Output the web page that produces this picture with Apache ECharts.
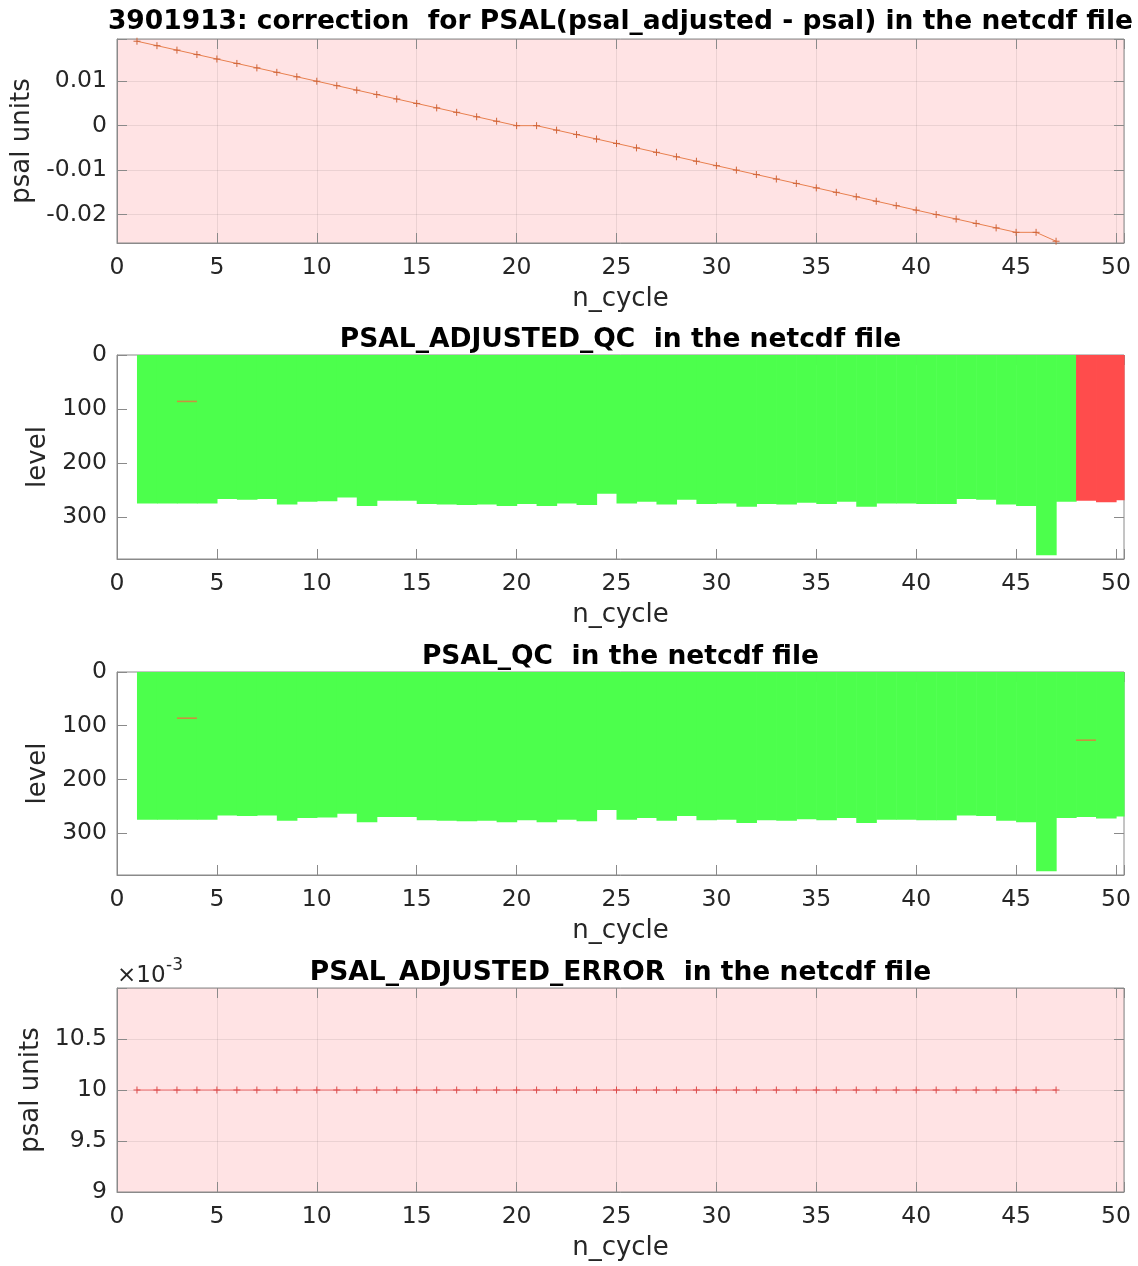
<!DOCTYPE html>
<html><head><meta charset="utf-8">
<script src="https://cdn.jsdelivr.net/npm/echarts@6/dist/echarts.min.js"></script>
<style>html,body{margin:0;padding:0;background:#fff}#c{width:1138px;height:1266px}</style>
</head><body><div id="c"></div>
<script>
// ---------- data ----------
const titles = [
  '3901913: correction  for PSAL(psal_adjusted - psal) in the netcdf file',
  'PSAL_ADJUSTED_QC  in the netcdf file',
  'PSAL_QC  in the netcdf file',
  'PSAL_ADJUSTED_ERROR  in the netcdf file'
];
const xTicks = [0, 5, 10, 15, 20, 25, 30, 35, 40, 45, 50];
const corrCycles = [1,2,3,4,5,6,7,8,9,10,11,12,13,14,15,16,17,18,19,20,21,22,23,24,25,26,27,28,29,30,31,32,33,34,35,36,37,38,39,40,41,42,43,44,45,46,47];
const correction = [0.019,0.018,0.017,0.016,0.015,0.014,0.013,0.012,0.011,0.010,0.009,0.008,0.007,0.006,0.005,0.004,0.003,0.002,0.001,0,0,-0.001,-0.002,-0.003,-0.004,-0.005,-0.006,-0.007,-0.008,-0.009,-0.010,-0.011,-0.012,-0.013,-0.014,-0.015,-0.016,-0.017,-0.018,-0.019,-0.020,-0.021,-0.022,-0.023,-0.024,-0.024,-0.026];
const adjError = [0.01,0.01,0.01,0.01,0.01,0.01,0.01,0.01,0.01,0.01,0.01,0.01,0.01,0.01,0.01,0.01,0.01,0.01,0.01,0.01,0.01,0.01,0.01,0.01,0.01,0.01,0.01,0.01,0.01,0.01,0.01,0.01,0.01,0.01,0.01,0.01,0.01,0.01,0.01,0.01,0.01,0.01,0.01,0.01,0.01,0.01,0.01];
const qcCycles = [1,2,3,4,5,6,7,8,9,10,11,12,13,14,15,16,17,18,19,20,21,22,23,24,25,26,27,28,29,30,31,32,33,34,35,36,37,38,39,40,41,42,43,44,45,46,47,48,49,50];
const profileBottom = [275,275,275,275,267,268,267,277,272,271,264,280,270,270,276,277,278,277,280,276,280,275,278,257,275,272,277,268,276,275,281,276,277,274,276,272,281,275,275,276,276,267,268,277,280,371,272,270,273,269];
const psalAdjQc = [1,1,1,1,1,1,1,1,1,1,1,1,1,1,1,1,1,1,1,1,1,1,1,1,1,1,1,1,1,1,1,1,1,1,1,1,1,1,1,1,1,1,1,1,1,1,1,4,4,4];
const psalQc    = [1,1,1,1,1,1,1,1,1,1,1,1,1,1,1,1,1,1,1,1,1,1,1,1,1,1,1,1,1,1,1,1,1,1,1,1,1,1,1,1,1,1,1,1,1,1,1,1,1,1];
const adjQcBadLevels = [[3, 86]];
const psalQcBadLevels = [[3, 86], [48, 127]];
const levelTicks = [0, 100, 200, 300];
const errTicks = [9, 9.5, 10, 10.5];

// ---------- style ----------
const FONT = '"DejaVu Sans", sans-serif';
const TXT = '#262626';
const AX = '#8a8a8a';
const GRIDC = 'rgba(38,38,38,0.09)';
const PINK = '#ffe3e4';
const GREEN = '#4cff4c';
const RED = '#ff4c4c';
const BADMARK = '#c9923f';
const TICKF = 23.5, LABF = 26;

const grids = [
  {left:117, top:39,  width:1007, height:204, bg:PINK, grid:true},
  {left:117, top:355, width:1007, height:204, bg:'#fff', grid:false},
  {left:117, top:672, width:1007, height:203, bg:'#fff', grid:false},
  {left:117, top:988, width:1007, height:204, bg:PINK, grid:true}
];
const ycfg = [
  {min:-0.0264, max:0.0195, inverse:false, name:'psal units', gap:76,
   fmt: v => { const t = Math.round(v*100); return Math.abs(v*100 - t) < 1e-6 ? String(t/100) : ''; }},
  {min:0, max:378, interval:100, inverse:true, name:'level', gap:59,
   fmt: v => levelTicks.indexOf(v) >= 0 ? String(v) : ''},
  {min:0, max:378, interval:100, inverse:true, name:'level', gap:59,
   fmt: v => levelTicks.indexOf(v) >= 0 ? String(v) : ''},
  {min:0.009, max:0.011, interval:0.0005, inverse:false, name:'psal units', gap:66,
   fmt: v => { const t = Math.round(v*1e4)/10; return errTicks.indexOf(t) >= 0 ? String(t) : ''; }}
];

const xAxes = [], yAxes = [], gridOpts = [];
grids.forEach((g, i) => {
  gridOpts.push({left:g.left, top:g.top, width:g.width, height:g.height, show:true,
    backgroundColor:g.bg, borderColor:AX, borderWidth:1, containLabel:false});
  xAxes.push({gridIndex:i, type:'value', min:0, max:50.4, interval:5, position:'bottom',
    axisLine:{show:true, onZero:false, lineStyle:{color:AX, width:1}},
    axisTick:{show:true, inside:true, length:10, lineStyle:{color:AX}},
    axisLabel:{show:true, margin:13, fontSize:TICKF, color:TXT, fontFamily:FONT,
      formatter: v => xTicks.indexOf(v) >= 0 ? String(v) : ''},
    splitLine:{show:g.grid, lineStyle:{color:GRIDC, width:1}},
    name:'n_cycle', nameLocation:'middle', nameGap:43,
    nameTextStyle:{fontSize:LABF, color:TXT, fontFamily:FONT}});
  xAxes.push({gridIndex:i, type:'value', min:0, max:50.4, interval:5, position:'top',
    axisLine:{show:false, onZero:false}, axisTick:{show:true, inside:true, length:10, lineStyle:{color:AX}},
    axisLabel:{show:false}, splitLine:{show:false}});
  const c = ycfg[i];
  const ya = {gridIndex:i, type:'value', min:c.min, max:c.max, inverse:c.inverse, position:'left',
    axisLine:{show:true, onZero:false, lineStyle:{color:AX, width:1}},
    axisTick:{show:true, inside:true, length:10, lineStyle:{color:AX}},
    axisLabel:{show:true, margin:10, fontSize:TICKF, color:TXT, fontFamily:FONT, formatter:c.fmt},
    splitLine:{show:g.grid, lineStyle:{color:GRIDC, width:1}},
    name:c.name, nameLocation:'middle', nameGap:c.gap, nameRotate:90,
    nameTextStyle:{fontSize:LABF, color:TXT, fontFamily:FONT}};
  if (c.interval) ya.interval = c.interval; else ya.splitNumber = 5;
  yAxes.push(ya);
  const yb = {gridIndex:i, type:'value', min:c.min, max:c.max, inverse:c.inverse, position:'right',
    axisLine:{show:false, onZero:false}, axisTick:{show:true, inside:true, length:10, lineStyle:{color:AX}},
    axisLabel:{show:false}, splitLine:{show:false}};
  if (c.interval) yb.interval = c.interval; else yb.splitNumber = 5;
  yAxes.push(yb);
});

const PLUS = 'path://M0,4H8M4,0V8';

function qcSeries(idx, qc) {
  return {type:'custom', xAxisIndex:2*idx, yAxisIndex:2*idx, silent:true, z:3,
    data: qcCycles.map((c, k) => [c, profileBottom[k], qc[k]]),
    renderItem: function(params, api) {
      const n = api.value(0), b = api.value(1), q = api.value(2);
      const p0 = api.coord([n, 0]), p1 = api.coord([n + 1, b]);
      const cs = params.coordSys;
      const r = echarts.graphic.clipRectByRect(
        {x:p0[0], y:Math.min(p0[1], p1[1]), width:p1[0]-p0[0], height:Math.abs(p1[1]-p0[1])},
        {x:cs.x, y:cs.y, width:cs.width, height:cs.height});
      if (!r) return null;
      const col = q === 4 ? RED : GREEN;
      return {type:'rect', shape:{x:r.x, y:r.y, width:r.width + 0.6, height:r.height}, style:{fill:col}};
    }};
}
function badSeries(idx, list) {
  return {type:'custom', xAxisIndex:2*idx, yAxisIndex:2*idx, silent:true, z:4,
    data: list,
    renderItem: function(params, api) {
      const n = api.value(0), l = api.value(1);
      const p0 = api.coord([n, l - 1.5]), p1 = api.coord([n + 1, l + 1.5]);
      return {type:'rect', shape:{x:p0[0], y:Math.min(p0[1], p1[1]), width:p1[0]-p0[0], height:Math.abs(p1[1]-p0[1])},
        style:{fill:BADMARK}};
    }};
}

const series = [
  {type:'line', xAxisIndex:0, yAxisIndex:0, data: corrCycles.map((c, k) => [c, correction[k]]),
   symbol:PLUS, symbolSize:7, showAllSymbol:true, silent:true, z:5,
   lineStyle:{color:'#e8804f', width:1},
   itemStyle:{color:'#d0653a', borderColor:'#d0653a', borderWidth:1}},
  qcSeries(1, psalAdjQc),
  badSeries(1, adjQcBadLevels),
  qcSeries(2, psalQc),
  badSeries(2, psalQcBadLevels),
  {type:'line', xAxisIndex:6, yAxisIndex:6, data: corrCycles.map((c, k) => [c, adjError[k]]),
   symbol:PLUS, symbolSize:7, showAllSymbol:true, silent:true, z:5,
   lineStyle:{color:'#f26a6a', width:1},
   itemStyle:{color:'#dc4b4b', borderColor:'#dc4b4b', borderWidth:1}}
];

const titleY = [22, 340, 657, 973];
const graphics = titles.map((t, i) => ({type:'text', x:620.5, y:titleY[i], z:10,
  style:{text:t, font:'bold 26.5px "DejaVu Sans", sans-serif', fill:'#000',
    align:'center', verticalAlign:'middle', textAlign:'center', textVerticalAlign:'middle'}}));
graphics.push({type:'text', x:117, y:976, z:10,
  style:{text:'×10', font:'23px "DejaVu Sans", sans-serif', fill:TXT,
    align:'left', verticalAlign:'middle', textAlign:'left', textVerticalAlign:'middle'}});
graphics.push({type:'text', x:166, y:966, z:10,
  style:{text:'-3', font:'17px "DejaVu Sans", sans-serif', fill:TXT,
    align:'left', verticalAlign:'middle', textAlign:'left', textVerticalAlign:'middle'}});

const chart = echarts.init(document.getElementById('c'), null, {renderer:'canvas'});
chart.setOption({
  animation:false,
  backgroundColor:'#fff',
  grid:gridOpts,
  xAxis:xAxes,
  yAxis:yAxes,
  series:series,
  graphic:graphics
});
</script></body></html>
